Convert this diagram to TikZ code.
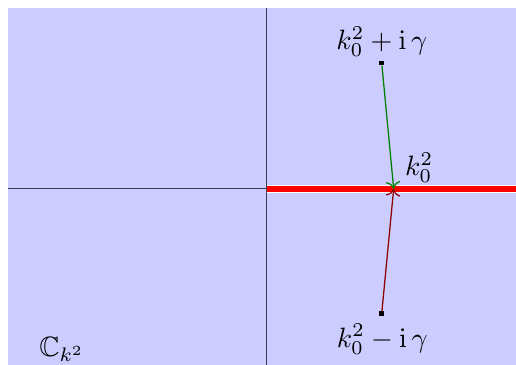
\documentclass[tikz,border=0pt]{standalone}
\usepackage{amssymb}
\usetikzlibrary{arrows.meta,positioning}
\definecolor{PlaneBlue}{HTML}{CCCCFF}
\definecolor{AxisSlate}{HTML}{3E3E52}
\definecolor{PathGreen}{HTML}{008000}
\definecolor{PathRed}{HTML}{8B0000}

\begin{document}
\begin{tikzpicture}[x=1.6cm,y=1.6cm,line cap=butt,line join=round,
  pole/.style={rectangle,fill=black,inner sep=0pt,minimum size=1.6pt},
  path arrow/.style={line width=0.45pt,-{To[length=2.6pt,width=5.2pt]}}]
  \useasboundingbox (-2.09,-1.38) rectangle (1.96,1.482);
  \fill[PlaneBlue] (-2.027,-1.38) rectangle (1.96,1.42);
  \coordinate (O) at (0,0);
  \coordinate (K) at (1,0);
  \coordinate (W) at (-2.027,0);\coordinate (E) at (1.96,0);
  \coordinate (N) at (0,1.42);\coordinate (S) at (0,-1.38);
  % cut along the positive real axis
  \draw[white,line width=2.9pt] (O)--(E);
  \draw[red,line width=2pt] (O)--(E);
  \draw[AxisSlate,line width=0.5pt] (W)--(O);
  \draw[AxisSlate,line width=0.55pt] (S)--(N);
  \node[pole] (Up) at (0.906,0.988) {};
  \node[pole] (Dn) at (0.906,-0.98) {};
  \draw[PathGreen,path arrow] (Up)--(K);
  \draw[PathRed,path arrow] (Dn)--(K);
  \node (UpLabel) at (0.906,1.155) {$k_0^2+\mathrm{i}\,\gamma$};
  \node (DnLabel) at (0.91,-1.18) {$k_0^2-\mathrm{i}\,\gamma$};
  \node (KLabel) at (1.2,0.165) {$k_0^2$};
  \node (Plane) at (-1.605,-1.26) {$\mathbb{C}_{k^2}$};
\end{tikzpicture}
\end{document}
